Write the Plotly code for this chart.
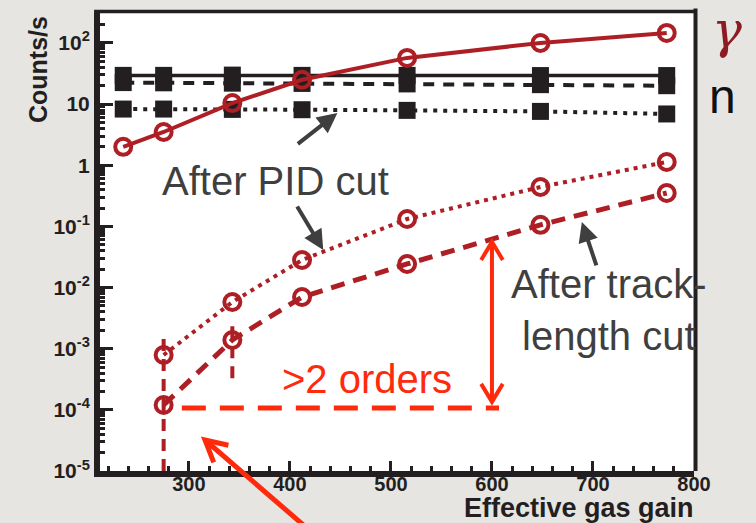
import math
import plotly.graph_objects as go

# ---- data -------------------------------------------------------------
gain = [235, 275, 343, 412, 516, 648, 773]          # effective gas gain
gamma_all = [2.0, 3.5, 10.4, 25, 57, 100, 146]      # gamma rate, no cut
n_all = [29.5, 29.5, 29.8, 29.5, 29.5, 29.3, 29.3]  # neutron rate, no cut
n_pid = [22.5, 22.3, 22.0, 21.8, 21.4, 20.8, 20.0]  # neutron rate after PID cut
n_track = [8.3, 8.3, 8.2, 8.1, 7.9, 7.6, 6.9]       # neutron rate after track-length cut

gain_cut = [275, 343, 412, 516, 648, 773]
gamma_pid = [7.9e-4, 5.8e-3, 0.0282, 0.132, 0.441, 1.13]
gamma_track = [1.2e-4, 1.39e-3, 7.0e-3, 0.0243, 0.106, 0.352]

# vertical uncertainty bars on the two lowest-gain points
bar_gain = [275, 343]
bar_low = [1e-5, 3.3e-4]
bar_high = [1.56e-3, 2.6e-3]

# ">2 orders" marker: level of the floor and top of the span
floor_level = 1.07e-4
floor_gain = [293, 607]
span_gain = 600
span_top = 0.0557
span_bottom = 1.35e-4

xtick_vals = [300, 400, 500, 600, 700, 800]
ytick_vals = [1e2, 10, 1, 1e-1, 1e-2, 1e-3, 1e-4, 1e-5]
ytick_text = ["10<sup>2</sup>", "10", "1", "10<sup>-1</sup>", "10<sup>-2</sup>",
              "10<sup>-3</sup>", "10<sup>-4</sup>", "10<sup>-5</sup>"]
yminor_vals = [k * 10.0 ** e for e in range(-5, 3) for k in range(2, 10)]

# ---- styling ----------------------------------------------------------
DARK_RED = "#AE1F25"
BRIGHT_RED = "#FF2A0C"
BLACK = "#231F20"
GREY = "#3F3F3F"
FONT = "Liberation Sans, Arial, sans-serif"

fig = go.Figure()

sq = dict(symbol="square", size=17, color=BLACK)
fig.add_trace(go.Scatter(x=gain, y=n_all, mode="lines+markers",
                         line=dict(color=BLACK, width=3.5), marker=sq))
fig.add_trace(go.Scatter(x=gain, y=n_pid, mode="lines+markers",
                         line=dict(color=BLACK, width=4, dash="11px,9px"), marker=sq))
fig.add_trace(go.Scatter(x=gain, y=n_track, mode="lines+markers",
                         line=dict(color=BLACK, width=4, dash="4px,6px"), marker=sq))

circ = dict(symbol="circle", size=16, color="rgba(0,0,0,0)",
            line=dict(color=DARK_RED, width=4))
fig.add_trace(go.Scatter(x=gain, y=gamma_all, mode="lines+markers",
                         line=dict(color=DARK_RED, width=4), marker=circ))
fig.add_trace(go.Scatter(x=gain_cut, y=gamma_pid, mode="lines+markers",
                         line=dict(color=DARK_RED, width=4, dash="4px,5px"), marker=circ))
fig.add_trace(go.Scatter(x=gain_cut, y=gamma_track, mode="lines+markers",
                         line=dict(color=DARK_RED, width=5, dash="14px,9px"), marker=circ))

for g, lo, hi in zip(bar_gain, bar_low, bar_high):
    fig.add_trace(go.Scatter(x=[g, g], y=[lo, hi], mode="lines",
                             line=dict(color=DARK_RED, width=4, dash="12px,8px")))


def chevron(dx, dy, length, spread):
    """Open arrow head at the anchor, arms pointing back along (dx, dy)."""
    norm = math.hypot(dx, dy)
    ux, uy = dx / norm, dy / norm
    pts = []
    for s in (spread, -spread):
        a = math.radians(s)
        rx = ux * math.cos(a) - uy * math.sin(a)
        ry = ux * math.sin(a) + uy * math.cos(a)
        pts.append((rx * length, ry * length))
    (x1, y1), (x2, y2) = pts
    return f"M {x1:.1f},{y1:.1f} L 0,0 L {x2:.1f},{y2:.1f}"


def px(xp, yp):
    """Page pixel position -> paper coordinates of this layout."""
    return (xp - 100) / 594, (471 - yp) / 458


shapes = []
# frame top and right
shapes.append(dict(type="line", xref="paper", yref="paper", x0=-0.01, x1=1.0045,
                   y0=1 + 1.5 / 458, y1=1 + 1.5 / 458, line=dict(color=BLACK, width=3.5)))
shapes.append(dict(type="line", xref="paper", yref="paper", x0=1 + 1.5 / 594, x1=1 + 1.5 / 594,
                   y0=0, y1=1.01, line=dict(color=BLACK, width=4)))
# dashed floor line
shapes.append(dict(type="line", xref="x", yref="y", x0=floor_gain[0], x1=floor_gain[1],
                   y0=floor_level, y1=floor_level,
                   line=dict(color=BRIGHT_RED, width=5, dash="24px,14px")))
# double arrow spanning the gap
shapes.append(dict(type="line", xref="x", yref="y", x0=span_gain, x1=span_gain,
                   y0=span_bottom, y1=span_top, line=dict(color=BRIGHT_RED, width=4)))
shapes.append(dict(type="path", xref="x", yref="y", xsizemode="pixel", ysizemode="pixel",
                   xanchor=span_gain, yanchor=span_top, path=chevron(0, -1, 21, 31),
                   line=dict(color=BRIGHT_RED, width=4)))
shapes.append(dict(type="path", xref="x", yref="y", xsizemode="pixel", ysizemode="pixel",
                   xanchor=span_gain, yanchor=span_bottom, path=chevron(0, 1, 21, 31),
                   line=dict(color=BRIGHT_RED, width=4)))
# arrow from below the axis
tip_x, tip_y = px(205, 440)
shapes.append(dict(type="line", xref="paper", yref="paper", xsizemode="pixel", ysizemode="pixel",
                   xanchor=tip_x, yanchor=tip_y, x0=0, y0=0, x1=125, y1=-108,
                   line=dict(color=BRIGHT_RED, width=5)))
shapes.append(dict(type="path", xref="paper", yref="paper", xsizemode="pixel", ysizemode="pixel",
                   xanchor=tip_x, yanchor=tip_y, path=chevron(125, -108, 24, 28),
                   line=dict(color=BRIGHT_RED, width=5)))

big = dict(family=FONT, size=40, color=GREY)
ctr = dict(xanchor="center", yanchor="middle", showarrow=False)
annotations = [
    dict(text="<b>Counts/s</b>", xref="paper", yref="paper", x=px(38, 0)[0],
         y=px(0, 70)[1], textangle=-90, font=dict(family=FONT, size=25, color=BLACK), **ctr),
    dict(text="<b>Effective gas gain</b>", xref="paper", yref="paper", x=px(696, 0)[0],
         y=px(0, 525)[1], xanchor="right", yanchor="bottom", showarrow=False,
         font=dict(family=FONT, size=27, color=BLACK)),
    dict(text="γ", xref="paper", yref="paper", x=px(727, 0)[0], y=px(0, 30)[1],
         font=dict(family="DejaVu Serif", size=50, color="#8E1B21", style="italic"), **ctr),
    dict(text="n", xref="paper", yref="paper", x=px(722, 0)[0], y=px(0, 96)[1],
         font=dict(family=FONT, size=48, color="#111111"), **ctr),
    dict(text="After PID cut", xref="x", yref="y", x=386, y=-0.257, font=big, **ctr),
    dict(text="After track-<br>length cut", xref="x", yref="y", x=716, y=-2.366,
         font=big, align="center", **ctr),
    dict(text=">2 orders", xref="x", yref="y", x=476, y=-3.495,
         font=dict(family=FONT, size=40, color=BRIGHT_RED), **ctr),
    # grey pointers
    dict(text="", xref="x", yref="y", x=447, y=0.855, ax=-41, ay=32, showarrow=True,
         arrowhead=2, arrowsize=1, arrowwidth=4, arrowcolor=GREY),
    dict(text="", xref="x", yref="y", x=433, y=-1.385, ax=-27, ay=-45, showarrow=True,
         arrowhead=2, arrowsize=1, arrowwidth=4, arrowcolor=GREY),
    dict(text="", xref="x", yref="y", x=689, y=-0.927, ax=15, ay=45, showarrow=True,
         arrowhead=2, arrowsize=1, arrowwidth=4, arrowcolor=GREY),
]

xtickfont = dict(family=FONT, size=20, color=BLACK, weight="bold")
ytickfont = dict(family=FONT, size=21, color=BLACK, weight="bold")

fig.update_layout(
    width=756, height=523,
    margin=dict(l=100, r=62, t=13, b=52),
    paper_bgcolor="#E6E5E1", plot_bgcolor="white",
    showlegend=False,
    shapes=shapes, annotations=annotations,
    xaxis=dict(range=[212, 800], showgrid=False, zeroline=False,
               showline=True, linewidth=6, linecolor=BLACK,
               ticks="inside", ticklen=10, tickwidth=3, tickcolor=BLACK,
               tickmode="array", tickvals=xtick_vals, tickfont=xtickfont,
               ticklabelstandoff=-10,
               minor=dict(tickmode="linear", tick0=0, dtick=20, ticks="inside",
                          ticklen=5, tickwidth=3, tickcolor=BLACK, showgrid=False)),
    yaxis=dict(type="log", range=[-5, 2.49], showgrid=False, zeroline=False,
               showline=True, linewidth=6, linecolor=BLACK,
               ticks="inside", ticklen=13, tickwidth=3, tickcolor=BLACK,
               tickmode="array", tickvals=ytick_vals, ticktext=ytick_text,
               tickfont=ytickfont,
               minor=dict(tickmode="array", tickvals=yminor_vals, ticks="inside",
                          ticklen=5, tickwidth=3, tickcolor=BLACK, showgrid=False)),
)

fig.write_html("out.html")
